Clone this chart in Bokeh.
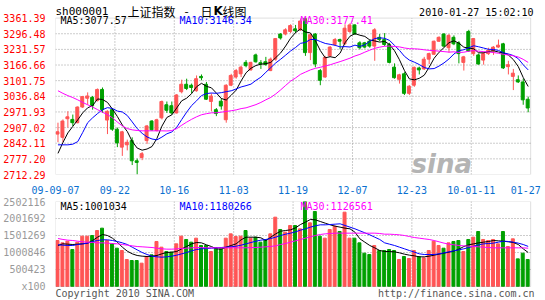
from bokeh.plotting import figure
from bokeh.models import ColumnDataSource, FixedTicker, Label, Range1d, BoxAnnotation
from bokeh.layouts import column
from bokeh.embed import file_html
from bokeh.resources import INLINE

# ---------------- data ----------------
date_tick_labels = ["09-09-07", "09-22", "10-16", "11-03", "11-19",
                    "12-07", "12-23", "10-01-11", "01-27"]
date_tick_index = [0, 12, 24, 36, 48, 60, 72, 84, 95]
price_tick_labels = ["2712.29", "2777.20", "2842.11", "2907.02", "2971.93", "3036.84",
                     "3101.75", "3166.66", "3231.57", "3296.48", "3361.39"]
volume_tick_labels = ["x100", "500423", "1000846", "1501269", "2001692", "2502116"]

open_ = [2880.0, 2866.5, 2943.6, 2940.9, 2927.3, 2992.3, 3028.8, 3032.8, 3019.3, 3065.3,
         2938.2, 2981.4, 2900.3, 2825.9, 2835.4, 2853.0, 2769.1, 2782.6, 2853.0, 2934.1,
         2894.9, 2947.6, 3001.7, 2997.7, 2967.9, 3055.8, 3086.9, 3082.8, 3059.9, 3119.4,
         3086.9, 3015.2, 2981.4, 3016.6, 2939.5, 3082.8, 3116.7, 3130.2, 3177.5, 3146.4,
         3208.6, 3176.2, 3180.2, 3143.7, 3191.0, 3295.2, 3295.2, 3306.0, 3316.8, 3312.8,
         3360.1, 3218.1, 3295.2, 3143.7, 3116.7, 3204.6, 3251.9, 3272.2, 3254.6, 3306.0,
         3333.0, 3258.7, 3258.7, 3265.4, 3245.1, 3281.6, 3272.2, 3251.9, 3157.9, 3107.2,
         3130.2, 3049.0, 3082.8, 3154.5, 3150.5, 3191.0, 3211.3, 3265.4, 3295.2, 3238.4,
         3281.6, 3258.7, 3177.5, 3306.0, 3214.0, 3208.6, 3187.0, 3214.0, 3224.8, 3241.1,
         3254.6, 3159.9, 3119.4, 3105.8, 3096.4, 3024.7]
high = [2927.3, 2940.9, 2974.7, 2961.1, 2995.0, 3038.2, 3053.1, 3038.2, 3069.3, 3073.4,
        2978.7, 2988.2, 2907.1, 2893.5, 2857.0, 2866.5, 2778.6, 2805.6, 2917.9, 2938.2,
        2943.6, 3019.3, 3015.2, 3015.2, 3046.3, 3105.8, 3109.9, 3089.6, 3123.4, 3127.5,
        3096.4, 3049.0, 2988.2, 3028.8, 3086.9, 3130.2, 3150.5, 3164.0, 3187.0, 3180.2,
        3214.0, 3187.0, 3200.5, 3197.8, 3278.9, 3299.2, 3319.5, 3335.7, 3333.0, 3360.1,
        3361.39, 3299.2, 3299.2, 3150.5, 3204.6, 3245.1, 3278.9, 3276.2, 3335.7, 3339.8,
        3335.7, 3265.4, 3262.7, 3272.2, 3319.5, 3295.2, 3299.2, 3258.7, 3173.5, 3130.2,
        3137.0, 3082.8, 3159.9, 3159.9, 3200.5, 3218.1, 3268.1, 3285.7, 3299.2, 3295.2,
        3289.8, 3265.4, 3204.6, 3312.8, 3278.9, 3214.0, 3222.1, 3238.4, 3245.1, 3272.2,
        3258.7, 3184.3, 3150.5, 3123.4, 3109.9, 3035.5]
low = [2846.2, 2846.2, 2907.1, 2913.8, 2924.6, 2988.2, 3001.7, 2981.4, 3015.2, 2967.9,
       2880.0, 2893.5, 2825.9, 2789.4, 2812.4, 2751.5, 2712.29, 2771.8, 2839.4, 2893.5,
       2890.8, 2940.9, 2967.9, 2961.1, 2965.2, 3049.0, 3062.6, 3049.0, 3055.8, 3103.1,
       3022.0, 2974.7, 2954.5, 2981.4, 2927.3, 3078.8, 3109.9, 3116.7, 3157.2, 3143.7,
       3176.2, 3150.5, 3164.0, 3141.0, 3184.3, 3272.2, 3289.8, 3299.2, 3299.2, 3308.7,
       3204.6, 3187.0, 3157.2, 3082.8, 3114.0, 3200.5, 3245.1, 3231.6, 3251.9, 3299.2,
       3292.5, 3231.6, 3235.7, 3238.4, 3184.3, 3265.4, 3245.1, 3173.5, 3109.9, 3089.6,
       3042.3, 3042.3, 3076.1, 3127.5, 3146.4, 3170.8, 3208.6, 3262.7, 3241.1, 3218.1,
       3249.2, 3173.5, 3143.7, 3222.1, 3204.6, 3168.1, 3168.1, 3208.6, 3208.6, 3238.4,
       3150.5, 3127.5, 3062.6, 3092.3, 3001.7, 2970.6]
close = [2889.5, 2934.1, 2951.7, 2927.3, 2992.3, 3035.5, 3038.2, 2997.7, 3065.3, 2981.4,
         2974.7, 2900.3, 2843.5, 2889.5, 2846.2, 2769.1, 2762.4, 2798.9, 2913.8, 2897.6,
         2939.5, 3015.2, 2978.7, 2967.9, 3042.3, 3086.9, 3069.3, 3073.4, 3109.9, 3114.0,
         3024.7, 3038.2, 2965.2, 2996.3, 3082.8, 3123.4, 3143.7, 3157.9, 3164.0, 3177.5,
         3180.2, 3170.8, 3168.1, 3191.0, 3276.2, 3278.9, 3312.8, 3330.3, 3308.7, 3349.3,
         3218.1, 3292.5, 3170.8, 3103.1, 3197.8, 3241.1, 3272.2, 3265.4, 3319.5, 3333.0,
         3295.2, 3238.4, 3241.1, 3245.1, 3312.8, 3272.2, 3251.9, 3177.5, 3114.0, 3126.1,
         3049.0, 3078.8, 3157.2, 3146.4, 3191.0, 3214.0, 3265.4, 3281.6, 3245.1, 3289.8,
         3254.6, 3214.0, 3200.5, 3224.8, 3276.2, 3170.8, 3214.0, 3227.5, 3241.1, 3249.2,
         3154.5, 3168.1, 3132.9, 3096.4, 3022.0, 2988.2]

ma5 = [2800.0, 2845.0, 2885.0, 2912.0, 2939.0, 2968.2, 2989.0, 2998.2, 3025.8, 3023.6,
       3011.5, 2983.9, 2953.0, 2917.9, 2890.8, 2849.7, 2822.1, 2813.2, 2818.1, 2828.4,
       2862.4, 2913.0, 2949.0, 2959.8, 2988.7, 3018.2, 3029.0, 3048.0, 3076.4, 3090.7,
       3078.3, 3072.0, 3050.4, 3027.7, 3021.4, 3041.2, 3062.3, 3100.8, 3134.4, 3153.3,
       3164.7, 3170.1, 3172.1, 3177.5, 3197.3, 3217.0, 3245.4, 3277.8, 3301.4, 3316.0,
       3303.8, 3299.8, 3267.9, 3226.8, 3196.5, 3201.1, 3197.0, 3215.9, 3259.2, 3286.2,
       3297.1, 3290.3, 3285.4, 3270.6, 3266.5, 3261.9, 3264.6, 3251.9, 3225.7, 3188.3,
       3143.7, 3109.1, 3105.0, 3111.5, 3124.5, 3157.5, 3194.8, 3219.7, 3239.4, 3259.2,
       3267.3, 3257.0, 3240.8, 3236.7, 3234.0, 3217.3, 3217.3, 3222.7, 3225.9, 3220.5,
       3217.3, 3208.1, 3189.2, 3160.2, 3114.8, 3077.57]
ma10 = [2835.4, 2835.4, 2835.4, 2838.1, 2848.9, 2886.8, 2927.3, 2947.6, 2965.2, 2981.3,
        2989.8, 2986.4, 2975.6, 2971.8, 2957.2, 2930.6, 2903.0, 2883.1, 2868.0, 2859.6,
        2856.1, 2867.6, 2881.1, 2888.9, 2908.5, 2940.3, 2971.0, 2998.5, 3018.1, 3039.7,
        3048.2, 3050.5, 3049.2, 3052.0, 3056.1, 3059.7, 3067.2, 3075.6, 3081.0, 3087.4,
        3102.9, 3116.2, 3136.5, 3155.9, 3175.3, 3190.8, 3207.7, 3225.0, 3239.5, 3256.6,
        3260.4, 3272.6, 3272.9, 3264.1, 3256.2, 3252.5, 3248.4, 3241.9, 3243.0, 3241.4,
        3249.1, 3243.7, 3250.7, 3264.9, 3276.4, 3279.5, 3277.5, 3268.7, 3248.1, 3227.4,
        3202.8, 3186.9, 3178.5, 3168.6, 3156.4, 3150.6, 3151.9, 3162.4, 3175.5, 3191.8,
        3212.4, 3225.9, 3230.2, 3238.1, 3246.6, 3242.3, 3237.1, 3231.7, 3231.3, 3227.3,
        3217.3, 3212.7, 3205.9, 3193.1, 3167.7, 3146.34]
ma30 = [3059.9, 3049.0, 3039.6, 3031.5, 3022.0, 3011.2, 3001.7, 2992.3, 2981.4, 2970.6,
        2961.1, 2947.6, 2930.0, 2913.8, 2903.0, 2897.6, 2894.9, 2893.5, 2893.5, 2893.5,
        2893.5, 2893.5, 2893.0, 2894.7, 2902.7, 2916.7, 2929.6, 2941.4, 2951.7, 2960.2,
        2964.7, 2968.2, 2968.6, 2970.9, 2973.9, 2976.9, 2980.4, 2985.7, 2989.0, 2995.6,
        3002.4, 3011.4, 3022.2, 3032.3, 3046.6, 3063.6, 3082.0, 3099.7, 3112.8, 3127.9,
        3137.2, 3146.4, 3152.8, 3157.3, 3162.5, 3167.7, 3174.4, 3180.8, 3187.8, 3195.1,
        3204.1, 3210.8, 3220.0, 3228.3, 3236.0, 3240.9, 3244.5, 3245.2, 3243.5, 3241.8,
        3237.4, 3234.4, 3234.0, 3232.5, 3229.7, 3227.5, 3225.9, 3224.3, 3222.2, 3220.2,
        3221.4, 3218.8, 3219.8, 3223.9, 3226.5, 3224.1, 3222.2, 3220.9, 3218.3, 3215.5,
        3210.8, 3208.5, 3204.9, 3199.9, 3190.2, 3177.41]

# volume, in thousands of "x100" units
volume_k = [1354, 1285, 1334, 1089, 1305, 1482, 1482, 1501, 1648, 1717,
            1354, 1256, 1128, 1060, 795, 765, 765, 687, 883, 932,
            1325, 1158, 1030, 1011, 1256, 1482, 1384, 1305, 1423, 1207,
            1207, 1030, 1138, 1109, 1423, 1550, 1472, 1482, 1648, 1423,
            1452, 1305, 1374, 1550, 2041, 1678, 1599, 1796, 1796, 1698,
            2502.116, 1874, 2208, 1482, 1423, 1678, 1776, 1619, 2188, 1423,
            1423, 1285, 981, 942, 1207, 1060, 1060, 1089, 1060, 795,
            883, 824, 1060, 883, 844, 1060, 1334, 1207, 1128, 1285,
            1325, 1354, 1030, 1384, 1452, 1619, 1384, 1354, 1384, 1256,
            1619, 1177, 1403, 814, 981, 795]
vma5_k = [1207, 1256, 1246, 1236, 1246, 1256, 1276, 1354, 1452, 1531,
          1501, 1423, 1305, 1158, 1040, 962, 913, 893, 883, 893,
          913, 962, 1001, 1011, 1030, 1109, 1177, 1256, 1295, 1285,
          1227, 1177, 1109, 1099, 1158, 1207, 1256, 1374, 1452, 1452,
          1452, 1433, 1354, 1452, 1550, 1629, 1648, 1668, 1727, 1825,
          1894, 1972, 1962, 1913, 1864, 1815, 1776, 1747, 1717, 1698,
          1599, 1403, 1305, 1207, 1138, 1060, 1030, 1030, 1020, 991,
          952, 922, 903, 873, 873, 893, 922, 952, 981, 1011,
          1040, 1099, 1177, 1227, 1256, 1285, 1305, 1325, 1354, 1344,
          1334, 1315, 1295, 1236, 1109, 1001.034]
vma10_k = [1227, 1217, 1207, 1207, 1236, 1256, 1276, 1325, 1354, 1374,
           1374, 1354, 1325, 1285, 1236, 1158, 1079, 1001, 942, 893,
           873, 863, 873, 893, 922, 962, 1001, 1050, 1089, 1109,
           1119, 1128, 1138, 1148, 1158, 1168, 1187, 1217, 1256, 1295,
           1334, 1364, 1384, 1413, 1452, 1501, 1540, 1570, 1609, 1658,
           1698, 1747, 1786, 1815, 1815, 1825, 1835, 1845, 1796, 1747,
           1698, 1639, 1580, 1521, 1452, 1384, 1285, 1246, 1207, 1158,
           1109, 1060, 1011, 962, 942, 942, 942, 962, 991, 1020,
           1050, 1079, 1109, 1148, 1187, 1227, 1256, 1266, 1276, 1305,
           1334, 1325, 1305, 1276, 1236, 1180.266]
vma30_k = [1413, 1384, 1364, 1354, 1334, 1315, 1305, 1295, 1285, 1285,
           1276, 1266, 1256, 1236, 1217, 1197, 1177, 1168, 1158, 1148,
           1128, 1109, 1099, 1099, 1109, 1119, 1128, 1138, 1148, 1148,
           1138, 1138, 1138, 1138, 1138, 1138, 1138, 1138, 1140, 1143,
           1148, 1158, 1168, 1180, 1197, 1236, 1266, 1305, 1344, 1384,
           1423, 1462, 1501, 1531, 1550, 1560, 1570, 1570, 1570, 1570,
           1570, 1570, 1570, 1570, 1570, 1560, 1540, 1540, 1531, 1521,
           1501, 1472, 1442, 1423, 1403, 1384, 1354, 1315, 1276, 1246,
           1227, 1207, 1197, 1187, 1177, 1168, 1158, 1148, 1138, 1138,
           1138, 1138, 1138, 1138, 1138, 1126.561]

legend_price = ["MA5:3077.57", "MA10:3146.34", "MA30:3177.41"]
legend_volume = ["MA5:1001034", "MA10:1180266", "MA30:1126561"]

# ---------------- styling ----------------
RED = "#ff5555"
GREEN = "#00a000"
GRID = "#999999"
FRAME = "#999999"
MONO = "DejaVu Sans Mono"
CJK = "Noto Sans CJK SC"

n = len(close)
idx = list(range(n))
cols = [RED if c >= o else GREEN for o, c in zip(open_, close)]
src = ColumnDataSource(dict(
    xw=[i + 0.5 for i in idx],
    xb=[i + 0.4 for i in idx],
    high=high, low=low,
    top=[max(o, c) for o, c in zip(open_, close)],
    bot=[min(o, c) for o, c in zip(open_, close)],
    col=cols,
    vol=[v * 1000 for v in volume_k],
    ma5=ma5, ma10=ma10, ma30=ma30,
    vma5=[v * 1000 for v in vma5_k],
    vma10=[v * 1000 for v in vma10_k],
    vma30=[v * 1000 for v in vma30_k],
))

price_ticks = [float(s) for s in price_tick_labels]
grid_x = [12 * k for k in range(1, 8)]
vol_ticks = [0] + [int(s) for s in volume_tick_labels[1:]]
pmin, pmax = price_ticks[0], price_ticks[-1]
vmax = vol_ticks[-1]
XN = n  # candles span 0..n on the x axis; 5 px each


def style_fig(p):
    p.background_fill_color = "white"
    p.border_fill_color = "white"
    p.outline_line_color = None
    for ax in p.axis:
        ax.major_tick_line_color = None
        ax.minor_tick_line_color = None
        ax.axis_line_color = None
        ax.major_label_text_font = MONO
        ax.major_label_text_font_size = "10px"
    p.xgrid.visible = False
    p.ygrid.visible = False


def grid(p, y_ticks, y0, y1):
    p.segment(x0=grid_x, y0=[y0] * len(grid_x), x1=grid_x, y1=[y1] * len(grid_x),
              line_color=GRID, line_dash="1 2", line_width=1)
    p.segment(x0=[0] * len(y_ticks), y0=y_ticks, x1=[XN] * len(y_ticks), y1=y_ticks,
              line_color=GRID, line_dash="1 2", line_width=1)


def txt(p, fl, fb, X, Y, text, color, size="10px", font=MONO, align="left",
        style="normal", baseline="middle"):
    # X, Y: canvas pixel position; converted to frame-relative screen units
    p.add_layout(Label(x=X - fl, y=fb - Y, x_units="screen", y_units="screen",
                       text=text, text_color=color, text_font=font,
                       text_font_size=size, text_align=align,
                       text_baseline=baseline, text_font_style=style))


# ---------------- price panel ----------------
# frame: canvas top (y=0) to y=178, x=50 to the canvas right edge (545);
# the price box itself is 50..530 x 18..178.
TOP_H = 196
p_top = pmax + (pmax - pmin) * 18 / 160
x_end = XN + 15 / 5
pf = figure(width=545, height=TOP_H, title=None, x_range=Range1d(0, x_end),
            y_range=Range1d(pmin, p_top),
            output_backend="svg", toolbar_location=None,
            min_border_left=50, min_border_right=0,
            min_border_top=0, min_border_bottom=18)
style_fig(pf)
pf.yaxis.ticker = FixedTicker(ticks=price_ticks)
pf.yaxis.major_label_overrides = {t: s for t, s in zip(price_ticks, price_tick_labels)}
pf.yaxis.major_label_text_color = "#ff0000"
pf.yaxis.major_label_standoff = 4
pf.xaxis.ticker = FixedTicker(ticks=date_tick_index)
pf.xaxis.major_label_overrides = {t: s for t, s in zip(date_tick_index, date_tick_labels)}
pf.xaxis.major_label_text_color = "#0a70d0"
pf.xaxis.major_label_standoff = 5

grid(pf, price_ticks[1:-1], pmin, pmax)
pf.segment(x0="xw", y0="low", x1="xw", y1="high", color="col", line_width=1, source=src)
pf.vbar(x="xb", width=0.6, top="top", bottom="bot", fill_color="col",
        line_color="col", line_width=1, source=src)
pf.line(x="xw", y="ma5", color="black", line_width=1, source=src)
pf.line(x="xw", y="ma10", color="#0000ff", line_width=1, source=src)
pf.line(x="xw", y="ma30", color="#ff00ff", line_width=1, source=src)
pf.add_layout(BoxAnnotation(left=0, right=XN, bottom=pmin, top=pmax,
                            fill_color=None, line_color=FRAME, line_width=1))

FB1 = TOP_H - 18
AB = "alphabetic"
txt(pf, 50, FB1, 50, 15, "sh000001", "black", size="11px", baseline=AB)
txt(pf, 50, FB1, 122, 14.5, "上证指数", "black", size="12px", font=CJK, baseline=AB)
txt(pf, 50, FB1, 181, 14.5, "-", "black", size="12px", font=CJK, align="center", baseline=AB)
txt(pf, 50, FB1, 195, 14.5, "日", "black", size="12px", font=CJK, baseline=AB)
txt(pf, 50, FB1, 208, 14.5, "K", "black", size="12px", font="DejaVu Sans", style="bold", baseline=AB)
txt(pf, 50, FB1, 217, 14.5, "线图", "black", size="12px", font=CJK, baseline=AB)
txt(pf, 50, FB1, 528, 16, "2010-01-27 15:02:10", "black", align="right", baseline=AB)
txt(pf, 50, FB1, 55, 24, legend_price[0], "black")
txt(pf, 50, FB1, 174, 24, legend_price[1], "#0000ff")
txt(pf, 50, FB1, 295, 24, legend_price[2], "#ff00ff")
txt(pf, 50, FB1, 406, 167, "sina", "#b4b4b4", size="26px", font="DejaVu Sans", style="bold italic")

# ---------------- volume panel ----------------
# frame: canvas y=201 to the bottom (300); the volume box is 50..530 x 201..286.
BOT_H = 104
v_bottom = -vmax * 14 / 85
vf = figure(width=545, height=BOT_H, title=None, x_range=pf.x_range,
            y_range=Range1d(v_bottom, vmax), x_axis_location=None,
            output_backend="svg", toolbar_location=None,
            min_border_left=50, min_border_right=0,
            min_border_top=5, min_border_bottom=0)
style_fig(vf)
vf.yaxis.ticker = FixedTicker(ticks=vol_ticks)
vf.yaxis.major_label_overrides = {t: s for t, s in zip(vol_ticks, volume_tick_labels)}
vf.yaxis.major_label_text_color = "#999999"
vf.yaxis.major_label_standoff = 4

grid(vf, vol_ticks[1:-1], 0, vmax)
vf.vbar(x="xb", width=0.6, top="vol", bottom=0, fill_color="col",
        line_color="col", line_width=1, source=src)
vf.line(x="xw", y="vma5", color="black", line_width=1, source=src)
vf.line(x="xw", y="vma10", color="#0000ff", line_width=1, source=src)
vf.line(x="xw", y="vma30", color="#ff00ff", line_width=1, source=src)
vf.add_layout(BoxAnnotation(left=0, right=XN, bottom=0, top=vmax,
                            fill_color=None, line_color=FRAME, line_width=1))

FB2 = 104   # frame bottom in the volume figure's own canvas
OFF2 = 196  # canvas offset of the volume figure


def txt2(X, Y, text, color, align="left"):
    txt(vf, 50, FB2, X, Y - OFF2, text, color, align=align)


txt2(55, 206, legend_volume[0], "black")
txt2(174, 206, legend_volume[1], "#0000ff")
txt2(295, 206, legend_volume[2], "#ff00ff")
txt2(50, 293, "Copyright 2010 SINA.COM", "#555555")
txt2(529, 293, "http://finance.sina.com.cn", "#555555", align="right")

layout = column(pf, vf, spacing=0)
open("out.html", "w").write(file_html(layout, INLINE))
